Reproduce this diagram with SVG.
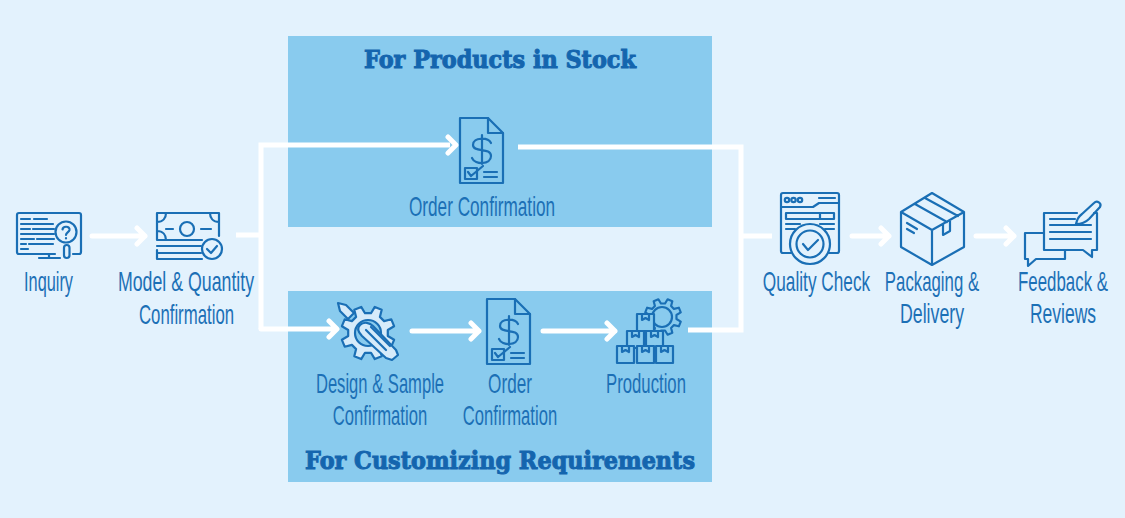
<svg xmlns="http://www.w3.org/2000/svg" width="1125" height="518" viewBox="0 0 1125 518">
<style>
.t{font-family:"Liberation Sans",sans-serif;font-size:27px;fill:#1c70b6;text-anchor:middle}
.h{font-family:"DejaVu Serif",serif;font-weight:900;font-size:24px;fill:#1465ae;stroke:#1465ae;stroke-width:1}
.i{fill:none;stroke:#1a6fb5;stroke-width:2.2;stroke-linejoin:round;stroke-linecap:round}
.c{fill:none;stroke:#fff;stroke-width:5;stroke-linejoin:miter}
.a{fill:none;stroke:#fff;stroke-width:5;stroke-linecap:round;stroke-linejoin:round}
</style>
<defs>
<g id="doc" class="i">
<path d="M460 118H488L503 133V183H460Z"/><path d="M488 118V133H503"/>
<path d="M491 143C488 137 473 137 473 145C473 153 491 147 491 156C491 165 475 165 472 158M482 135V164"/>
<rect x="465" y="168" width="12" height="11"/><path d="M468 172L471 176L483 166M484 172H497M484 177H497"/>
</g>
<path id="gear" d="M19.800 3L26.100 6.800L23.300 13.700L16.100 11.900L11.900 16.100L13.700 23.300L6.800 26.100L3 19.800L-3 19.800L-6.800 26.100L-13.700 23.300L-11.900 16.100L-16.100 11.900L-23.300 13.700L-26.100 6.800L-19.800 3L-19.800 -3L-26.100 -6.800L-23.300 -13.700L-16.100 -11.900L-11.900 -16.100L-13.700 -23.300L-6.800 -26.100L-3 -19.800L3 -19.800L6.800 -26.100L13.700 -23.300L11.900 -16.100L16.100 -11.900L23.300 -13.700L26.100 -6.800L19.800 -3Z"/>
<g id="bx" class="i"><rect x="0" y="0" width="17" height="17" style="fill:#89cbee"/><path d="M5 0V6L8.500 4L12 6V0"/></g>
</defs>
<rect width="1125" height="518" fill="#e3f2fd"/>
<g id="panel-stock"><rect x="288" y="36" width="424" height="191" fill="#89cbee"/><text class="h" x="364" y="68" textLength="272" lengthAdjust="spacingAndGlyphs">For Products in Stock</text></g>
<g id="panel-custom"><rect x="288" y="291" width="424" height="191" fill="#89cbee"/><text class="h" x="305" y="469" textLength="390" lengthAdjust="spacingAndGlyphs">For Customizing Requirements</text></g>
<g id="connectors">
<path class="c" d="M236 235H261M261 329V145H450"/>
<path class="a" d="M448 137L456 145L448 153M261 329H336M329 321L337 329L329 337"/>
<path class="c" d="M518 147H741V330H688M741 236H772"/>
<path class="a" d="M92 236H145M137 228L145 236L137 244M412 331H479M471 323L479 331L471 339M543 331H615M607 323L615 331L607 339M852 236H889M881 228L889 236L881 244M976 236H1014M1006 228L1014 236L1006 244"/>
</g>
<g id="inquiry"><g class="i">
<path d="M55 254H19Q17 254 17 252V215Q17 213 19 213H79Q81 213 81 215V252Q81 254 79 254H73"/>
<path d="M39 258H60M49 254V258M21 219H30M34 219H47M21 224H53M21 229H30M33 229H54M21 234H54M21 239H34M37 239H54M21 244H26M29 244H53M21 249H28"/>
<circle cx="66" cy="232" r="10.500" fill="#e3f2fd"/><rect x="64" y="245" width="5.500" height="13" rx="2.700"/>
<path d="M62.500 229.500C63 225.500 70 226 69.500 230C69 232.500 66 232.500 66 235M66 238V238.500"/>
</g><text class="t" transform="translate(48.500 291) scale(.72 1)" textLength="68" lengthAdjust="spacingAndGlyphs">Inquiry</text></g>
<g id="model-quantity"><g class="i">
<path d="M202 240H157V213H219V236M157 222C163 222 166 218 166 213M219 222C213 222 210 218 210 213M157 231C163 231 166 235 166 240"/>
<circle cx="187" cy="229" r="7"/><path d="M166 229H173M201 229H211M157 246H201M157 253H201M157 250V259H202"/>
<circle cx="212" cy="249" r="10"/><path d="M207 249L211 253L217 246"/>
</g><text class="t" transform="translate(186 291) scale(.72 1)" textLength="189" lengthAdjust="spacingAndGlyphs">Model &amp; Quantity</text><text class="t" transform="translate(186.500 324) scale(.72 1)" textLength="132" lengthAdjust="spacingAndGlyphs">Confirmation</text></g>
<g id="order-stock"><use href="#doc"/><text class="t" transform="translate(482 216) scale(.72 1)" textLength="203" lengthAdjust="spacingAndGlyphs">Order Confirmation</text></g>
<g id="design-sample"><g class="i">
<path style="fill:#d6ebfa" d="M338 303L346 305L354 313L348 319L340 311Z"/>
<use href="#gear" transform="translate(368 333)" style="fill:#d6ebfa"/>
<circle cx="368" cy="333" r="13" style="fill:#89cbee"/>
<path style="fill:#d6ebfa" d="M360 325C364 321 370 323 373 326L396 350L398 355L392 360L386 358L362 336C358 332 357 328 360 325Z"/>
<path d="M366 330L386 350M371 327L390 346"/>
</g><text class="t" transform="translate(380 393) scale(.72 1)" textLength="178" lengthAdjust="spacingAndGlyphs">Design &amp; Sample</text><text class="t" transform="translate(380 425) scale(.72 1)" textLength="131" lengthAdjust="spacingAndGlyphs">Confirmation</text></g>
<g id="order-custom"><use href="#doc" x="27" y="181"/><text class="t" transform="translate(510 393) scale(.72 1)" textLength="61" lengthAdjust="spacingAndGlyphs">Order</text><text class="t" transform="translate(510 425) scale(.72 1)" textLength="131" lengthAdjust="spacingAndGlyphs">Confirmation</text></g>
<g id="production"><g class="i">
<use href="#gear" transform="translate(663 317) scale(.68)" style="stroke-width:3.200"/>
<circle cx="662" cy="317" r="10"/>
</g>
<use href="#bx" x="637" y="314"/><use href="#bx" x="627" y="331"/><use href="#bx" x="646" y="331"/>
<use href="#bx" x="617" y="346"/><use href="#bx" x="637" y="346"/><use href="#bx" x="656" y="346"/>
<text class="t" transform="translate(646 393) scale(.72 1)" textLength="111" lengthAdjust="spacingAndGlyphs">Production</text></g>
<g id="quality"><g class="i">
<path d="M791 253H783Q781 253 781 251V195Q781 193 783 193H837Q839 193 839 195V251Q839 253 837 253H829"/>
<path d="M781 207H813L819 203H839M819 198H835M786 213H834V219H786ZM820 213V219M786 224H800M820 224H834M786 229H795M825 229H834"/>
<circle cx="787" cy="200" r="2.200"/><circle cx="793.500" cy="200" r="2.200"/><circle cx="800" cy="200" r="2.200"/>
<circle cx="810" cy="244" r="20" fill="#e3f2fd"/><circle cx="810" cy="244" r="13.500"/><path d="M803 244L808 250L818 240"/>
</g><text class="t" transform="translate(816.500 291) scale(.72 1)" textLength="149" lengthAdjust="spacingAndGlyphs">Quality Check</text></g>
<g id="packaging"><g class="i">
<path d="M932 193L964 212V247L932 265L901 247V212ZM901 212L932 230L964 212M932 230V265M915 204L947 222M925 198L958 216M943 224V235L950 231V220M907 223L917 229M907 229L914 233"/>
</g><text class="t" transform="translate(932 291) scale(.72 1)" textLength="131" lengthAdjust="spacingAndGlyphs">Packaging &amp;</text><text class="t" transform="translate(932 323) scale(.72 1)" textLength="89" lengthAdjust="spacingAndGlyphs">Delivery</text></g>
<g id="feedback"><g class="i">
<path d="M1044 233H1025V259H1028V266L1036 259H1065V250"/>
<path d="M1077 213H1044V250H1083L1092 257V250H1097V213H1094"/>
<path d="M1050 225H1091M1050 232H1091M1050 239H1091M1050 219H1075"/>
<path d="M1076 224C1077 219 1079 216 1082 214L1094 203C1097 200 1102 203 1100 207L1089 219C1086 222 1082 224 1076 224Z"/>
</g><text class="t" transform="translate(1063 291) scale(.72 1)" textLength="125" lengthAdjust="spacingAndGlyphs">Feedback &amp;</text><text class="t" transform="translate(1063 323) scale(.72 1)" textLength="92" lengthAdjust="spacingAndGlyphs">Reviews</text></g>
</svg>
